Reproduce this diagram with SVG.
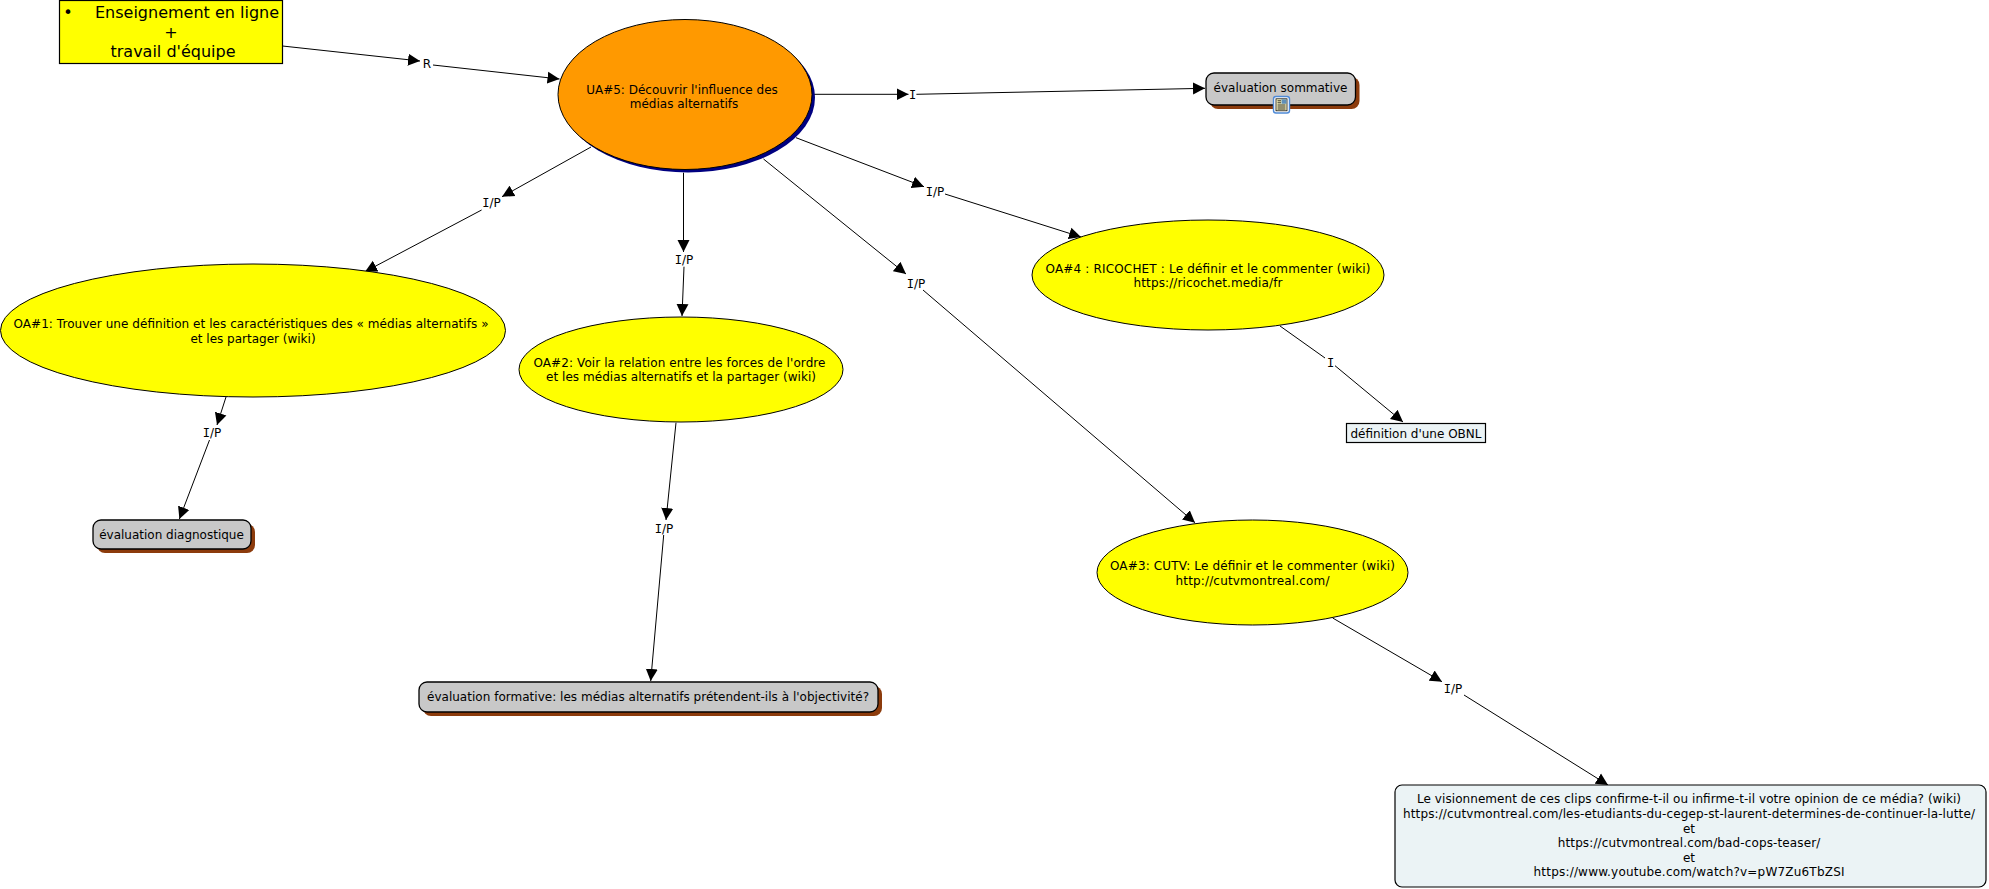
<svg xmlns="http://www.w3.org/2000/svg" width="1989" height="889" viewBox="0 0 1989 889">
<style>
text{font-family:"DejaVu Sans","Liberation Sans",sans-serif;font-size:12px;fill:#000;text-anchor:middle;dominant-baseline:central;transform:translateY(.7px)}
.big{font-size:16px}
.lbl{font-size:12px}
.i{font-family:"DejaVu Sans Mono",monospace}
.conn{stroke:#000;stroke-width:1;fill:none}
.arr{marker-end:url(#ah)}
.oa{fill:#ff0;stroke:#000;stroke-width:1}
.ev{fill:#c8c8c8;stroke:#000;stroke-width:1.3}
.sh{fill:#8c3b0c}
.note{fill:#ebf3f5;stroke:#000;stroke-width:1.2}
</style>
<defs>
<marker id="ah" markerUnits="userSpaceOnUse" markerWidth="13" markerHeight="13" refX="12" refY="6.500" orient="auto"><path d="M0,0.500L12,6.500L0,12.500Z" fill="#000"/></marker>
</defs>
<g id="connectors">
<path class="conn arr" d="M282.500 46L420 61"/>
<path class="conn arr" d="M433 65L559.500 79"/>
<path class="conn arr" d="M813.600 94.300L908.500 94.300"/>
<path class="conn arr" d="M916.400 94.300L1205 88.300"/>
<path class="conn arr" d="M796 137.700L924 186.700"/>
<path class="conn arr" d="M945 194L1081 237"/>
<path class="conn" d="M1280 326L1325 358"/>
<path class="conn arr" d="M1335 365.700L1403 422"/>
<path class="conn arr" d="M763.500 159L906 274"/>
<path class="conn arr" d="M923 290L1195 522.700"/>
<path class="conn arr" d="M591 147L502 196.700"/>
<path class="conn arr" d="M481.600 210L365 271.700"/>
<path class="conn arr" d="M226 397L217 425"/>
<path class="conn arr" d="M209.500 440L179.400 519"/>
<path class="conn arr" d="M683.500 172.700L683.500 252"/>
<path class="conn arr" d="M684 266.700L682 316"/>
<path class="conn arr" d="M676 422.700L666 520"/>
<path class="conn arr" d="M663.700 535L650.700 681"/>
<path class="conn arr" d="M1332.700 618L1442 681.700"/>
<path class="conn arr" d="M1464 695L1608 785"/>
<text class="lbl" x="427" y="63.500">R</text>
<text class="lbl i" x="912.500" y="94">I</text>
<text class="lbl" x="935" y="191"><tspan class="i">I</tspan>/P</text>
<text class="lbl i" x="1330.700" y="362">I</text>
<text class="lbl" x="916" y="283"><tspan class="i">I</tspan>/P</text>
<text class="lbl" x="491.500" y="202.700"><tspan class="i">I</tspan>/P</text>
<text class="lbl" x="212" y="432.700"><tspan class="i">I</tspan>/P</text>
<text class="lbl" x="684" y="259"><tspan class="i">I</tspan>/P</text>
<text class="lbl" x="664" y="528"><tspan class="i">I</tspan>/P</text>
<text class="lbl" x="1453" y="688.700"><tspan class="i">I</tspan>/P</text>
</g>
<g id="node-top">
<rect x="59.500" y="0.500" width="223" height="63" fill="#ff0" stroke="#000" stroke-width="1.200"/>
<text class="big" x="68" y="12">•</text>
<text class="big" x="187" y="12">Enseignement en ligne</text>
<text class="big" x="171" y="32">+</text>
<text class="big" x="173" y="51">travail d'équipe</text>
</g>
<g id="node-ua5">
<ellipse cx="688" cy="97.500" rx="127" ry="75" fill="#000080"/>
<ellipse cx="685" cy="94.500" rx="127" ry="75" fill="#f90" stroke="#000" stroke-width="1"/>
<text x="682" y="89">UA#5: Découvrir l'influence des</text>
<text x="684" y="103">médias alternatifs</text>
</g>
<g id="node-sommative">
<rect class="sh" x="1210" y="77" width="149.500" height="32" rx="8"/>
<rect class="ev" x="1206" y="73" width="149.500" height="32" rx="8"/>
<text x="1280.500" y="87.700">évaluation sommative</text>
<rect x="1273.500" y="96.500" width="16" height="16.500" rx="2.500" fill="#fff" stroke="#4f8ad6" stroke-width="1.400"/>
<rect x="1276" y="98.800" width="11" height="12" fill="#fdf8c0" stroke="#111" stroke-width="0.800"/>
<rect x="1281.500" y="99.300" width="5" height="4.500" fill="#5f8fb9"/>
<path d="M1277.500 100.800h3.500M1277.500 102.800h3.500M1277.500 105h8M1277.500 107h8M1277.500 109h8" stroke="#111" stroke-width="0.900" fill="none"/>
</g>
<g id="node-oa1">
<ellipse class="oa" cx="253" cy="330.500" rx="252.500" ry="66.500"/>
<text x="251" y="323" textLength="475">OA#1: Trouver une définition et les caractéristiques des « médias alternatifs »</text>
<text x="253" y="338">et les partager (wiki)</text>
</g>
<g id="node-oa2">
<ellipse class="oa" cx="681" cy="369.500" rx="162" ry="52.500"/>
<text x="679.500" y="362" textLength="292">OA#2: Voir la relation entre les forces de l'ordre</text>
<text x="681" y="376.700" textLength="270">et les médias alternatifs et la partager (wiki)</text>
</g>
<g id="node-oa3">
<ellipse class="oa" cx="1252.500" cy="572.500" rx="155.500" ry="52.500"/>
<text x="1252.500" y="565.700" textLength="285">OA#3: CUTV: Le définir et le commenter (wiki)</text>
<text x="1252.500" y="580" textLength="154">http://cutvmontreal.com/</text>
</g>
<g id="node-oa4">
<ellipse class="oa" cx="1208" cy="275" rx="176" ry="55"/>
<text x="1208" y="268" textLength="325">OA#4 : RICOCHET : Le définir et le commenter (wiki)</text>
<text x="1208" y="282.500" textLength="149">https://ricochet.media/fr</text>
</g>
<g id="node-diagnostique">
<rect class="sh" x="97" y="524" width="158" height="29" rx="8"/>
<rect class="ev" x="93" y="520" width="158" height="29" rx="8"/>
<text x="171.500" y="534.700">évaluation diagnostique</text>
</g>
<g id="node-formative">
<rect class="sh" x="423" y="686" width="459" height="30" rx="8"/>
<rect class="ev" x="419" y="682" width="459" height="30" rx="8"/>
<text x="648" y="696.700" textLength="442">évaluation formative: les médias alternatifs prétendent-ils à l'objectivité?</text>
</g>
<g id="node-obnl">
<rect class="note" x="1346.500" y="423.500" width="139" height="19"/>
<text x="1416" y="433.700" textLength="131">définition d'une OBNL</text>
</g>
<g id="node-clips">
<rect class="note" x="1395" y="785" width="591" height="102" rx="7"/>
<text x="1689" y="798.700" textLength="544">Le visionnement de ces clips confirme-t-il ou infirme-t-il votre opinion de ce média? (wiki)</text>
<text x="1689" y="813" textLength="572">https://cutvmontreal.com/les-etudiants-du-cegep-st-laurent-determines-de-continuer-la-lutte/</text>
<text x="1689" y="828">et</text>
<text x="1689" y="842.700" textLength="262.500">https://cutvmontreal.com/bad-cops-teaser/</text>
<text x="1689" y="857">et</text>
<text x="1689" y="871.700" textLength="311">https://www.youtube.com/watch?v=pW7Zu6TbZSI</text>
</g>
</svg>
